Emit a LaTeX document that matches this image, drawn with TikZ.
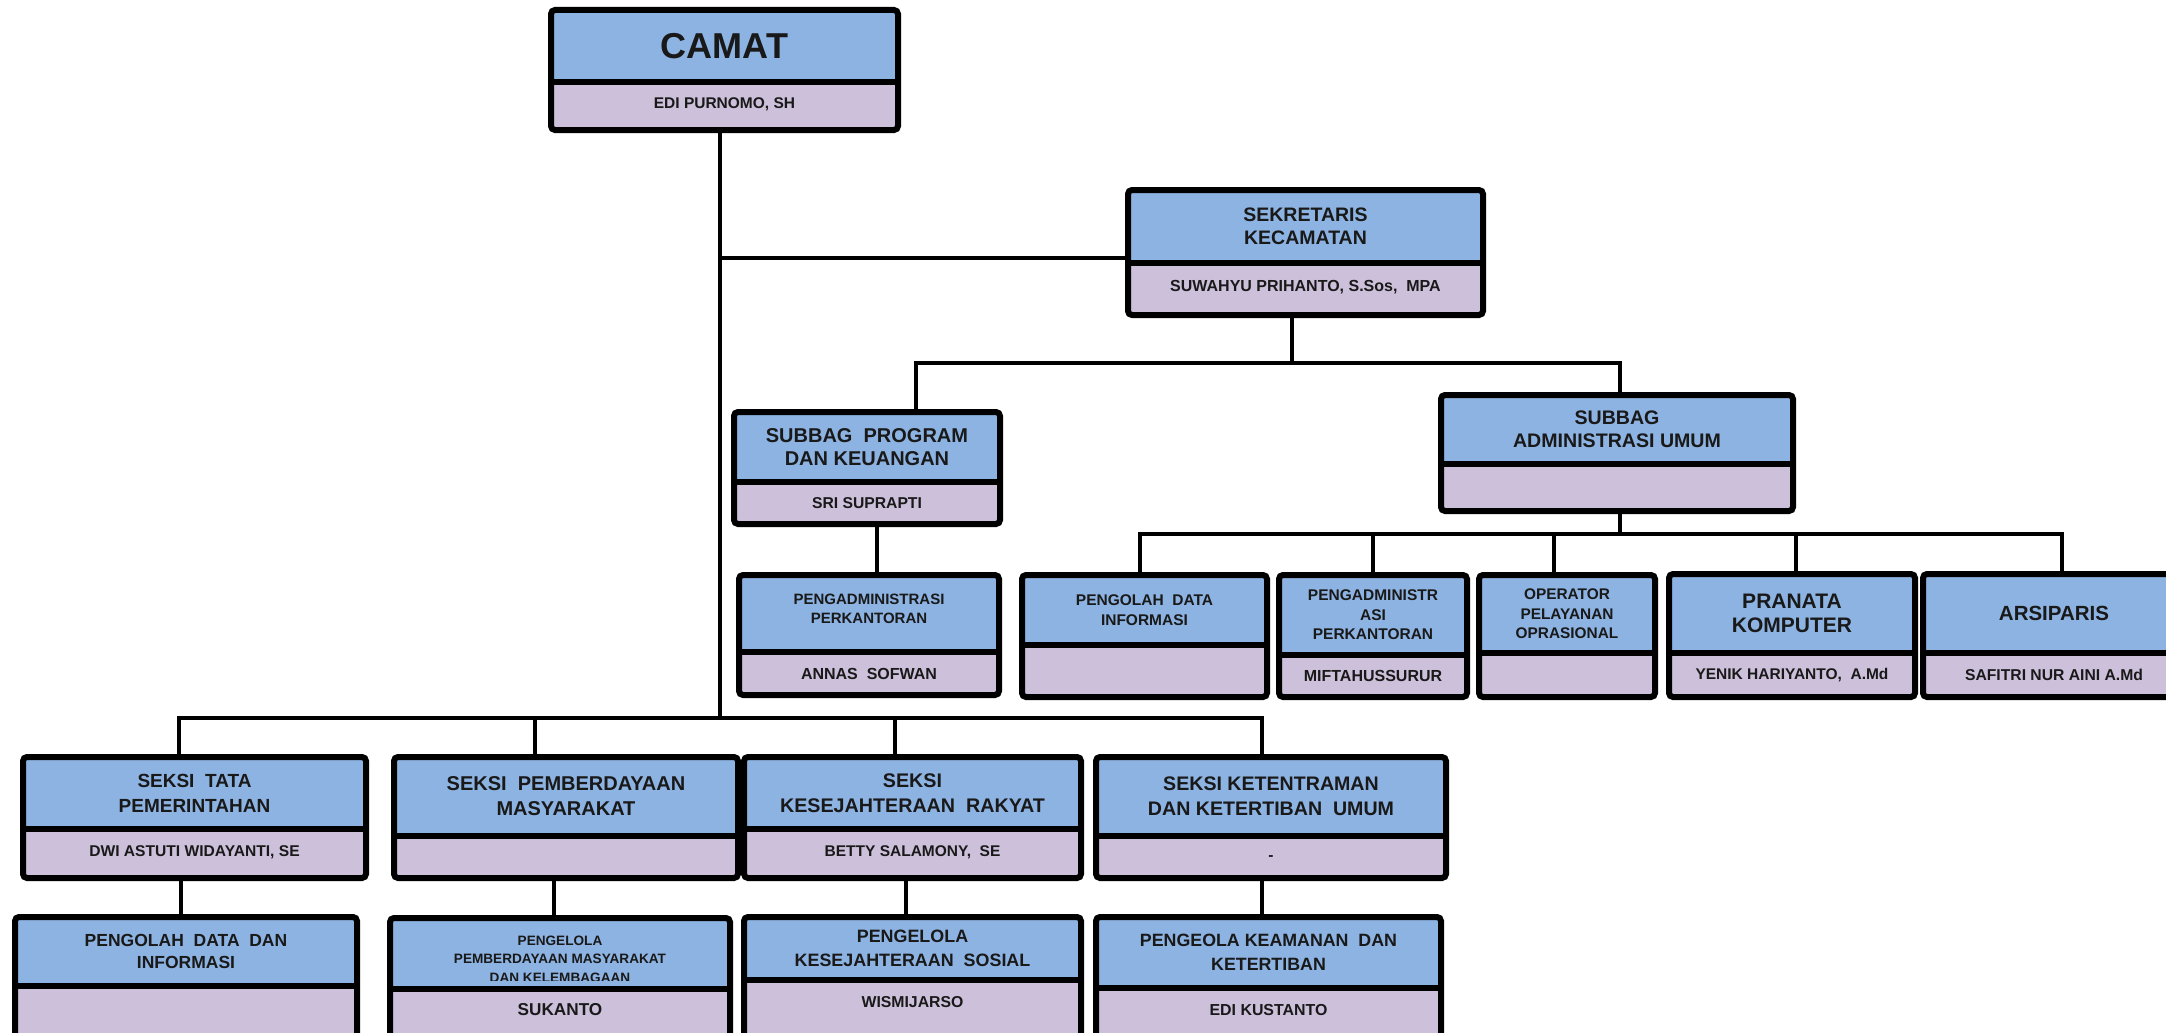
\documentclass[tikz,border=0pt]{standalone}
\usepackage{fontspec}
\setmainfont{Liberation Sans}
\usetikzlibrary{fit}
\definecolor{tblue}{HTML}{8DB3E2}
\definecolor{tpurple}{HTML}{CCC0DA}
\newcommand\fs[2]{\fontsize{#1}{#2}\selectfont\bfseries}
\newcommand\orgbox[6]{%
  \fill[tblue] (#2,#3) rectangle (#4,#5);
  \fill[tpurple] (#2,#5) rectangle (#4,#6);
  \draw[line width=6] (#2,#5) -- (#4,#5);
  \node[boxframe, fit={(#2,#3) (#4,#6)}] (#1) {};
  \coordinate (#1-tc) at ({(#2+#4)/2},{(#3+#5)/2});
}
\begin{document}
\begin{tikzpicture}[x=1pt,y=-1pt,
  boxframe/.style={draw, line width=6, rounded corners=4, inner sep=0, outer sep=0},
  txt/.style={align=center, inner sep=0, text=black!90},
  conn/.style={line width=3.2, line cap=rect}]
\useasboundingbox (0,0) rectangle (2166,1033);
\clip (0,0) rectangle (2166,1033);

% ---------- boxes ----------
\orgbox{camat}{551}{10}{898}{82}{130}
\orgbox{sekr}{1128}{190}{1483}{263}{315}
\orgbox{subprog}{734}{412}{1000}{482}{524}
\orgbox{subadm}{1441}{395}{1793}{464}{511}
\orgbox{pperk}{739}{575}{999}{652}{695}
\orgbox{pdi}{1022}{575}{1267}{645}{697}
\orgbox{padm}{1279}{575}{1467}{655}{697}
\orgbox{oper}{1479}{575}{1655}{653}{697}
\orgbox{pran}{1669}{574}{1915}{653}{697}
\orgbox{arsip}{1923}{574}{2185}{653}{697}
\orgbox{stata}{23}{757}{366}{829}{878}
\orgbox{spemb}{394}{757}{738}{836}{878}
\orgbox{skesra}{744}{757}{1081}{829}{878}
\orgbox{sktr}{1096}{757}{1446}{836}{878}
\orgbox{bpdi}{15}{917}{357}{986}{1050}
\orgbox{bpemb}{390}{918}{730}{989}{1050}
\orgbox{bkes}{744}{917}{1081}{980}{1050}
\orgbox{bkam}{1096}{917}{1441}{988}{1050}

% ---------- texts ----------
\node[txt, font=\fs{36}{40}] (camat-t) at (camat-tc) {CAMAT};
\node[txt, font=\fs{15.5}{18}] (camat-s) at (724.5,104) {EDI PURNOMO, SH};

\node[txt, font=\fs{19.5}{23}] (sekr-t) at (sekr-tc) {SEKRETARIS\\KECAMATAN};
\node[txt, font=\fs{16}{19}] (sekr-s) at (1305.5,287) {SUWAHYU PRIHANTO, S.Sos,\ \ MPA};

\node[txt, font=\fs{20}{23}] (subprog-t) at (subprog-tc) {SUBBAG\ \ PROGRAM\\DAN KEUANGAN};
\node[txt, font=\fs{15.7}{19}] (subprog-s) at (867,503) {SRI SUPRAPTI};

\node[txt, font=\fs{19.6}{23}] (subadm-t) at (subadm-tc) {SUBBAG\\ADMINISTRASI UMUM};

\node[txt, font=\fs{15}{19}] (pperk-t) at (869,609) {PENGADMINISTRASI\\PERKANTORAN};
\node[txt, font=\fs{16}{19}] (pperk-s) at (869,674) {ANNAS\ \ SOFWAN};

\node[txt, font=\fs{15.5}{20}] (pdi-t) at (pdi-tc) {PENGOLAH\ \ DATA\\INFORMASI};

\node[txt, font=\fs{15.5}{19.5}] (padm-t) at (padm-tc) {PENGADMINISTR\\ASI\\PERKANTORAN};
\node[txt, font=\fs{16}{19}] (padm-s) at (1373,676) {MIFTAHUSSURUR};

\node[txt, font=\fs{15.4}{19.5}] (oper-t) at (oper-tc) {OPERATOR\\PELAYANAN\\OPRASIONAL};

\node[txt, font=\fs{21}{24}] (pran-t) at (pran-tc) {PRANATA\\KOMPUTER};
\node[txt, font=\fs{15.5}{19}] (pran-s) at (1792,675) {YENIK HARIYANTO,\ \ A.Md};

\node[txt, font=\fs{20.5}{24}] (arsip-t) at (arsip-tc) {ARSIPARIS};
\node[txt, font=\fs{15.7}{19}] (arsip-s) at (2054,675) {SAFITRI NUR AINI A.Md};

\node[txt, font=\fs{19}{25}] (stata-t) at (stata-tc) {SEKSI\ \ TATA\\PEMERINTAHAN};
\node[txt, font=\fs{15.6}{19}] (stata-s) at (194.5,852) {DWI ASTUTI WIDAYANTI, SE};

\node[txt, font=\fs{20}{25}] (spemb-t) at (spemb-tc) {SEKSI\ \ PEMBERDAYAAN\\MASYARAKAT};

\node[txt, font=\fs{19.7}{25}] (skesra-t) at (skesra-tc) {SEKSI\\KESEJAHTERAAN\ \ RAKYAT};
\node[txt, font=\fs{15.5}{19}] (skesra-s) at (912.5,852) {BETTY SALAMONY,\ \ SE};

\node[txt, font=\fs{19.6}{25}] (sktr-t) at (sktr-tc) {SEKSI KETENTRAMAN\\DAN KETERTIBAN\ \ UMUM};
\node[txt, font=\fs{15.5}{19}] (sktr-s) at (1271,858) {-};

\node[txt, font=\fs{17.5}{22.5}] (bpdi-t) at (bpdi-tc) {PENGOLAH\ \ DATA\ \ DAN\\INFORMASI};

\begin{scope}
\clip (390,918) rectangle (730,980);
\node[txt, font=\fs{13.6}{18.5}] (bpemb-t) at (560,959) {PENGELOLA\\PEMBERDAYAAN MASYARAKAT\\DAN KELEMBAGAAN};
\end{scope}
\node[txt, font=\fs{17.2}{20}] (bpemb-s) at (560,1010) {SUKANTO};

\node[txt, font=\fs{17.9}{24}] (bkes-t) at (bkes-tc) {PENGELOLA\\KESEJAHTERAAN\ \ SOSIAL};
\node[txt, font=\fs{15.8}{19}] (bkes-s) at (912.5,1002) {WISMIJARSO};

\node[txt, font=\fs{17.8}{24}] (bkam-t) at (bkam-tc) {PENGEOLA KEAMANAN\ \ DAN\\KETERTIBAN};
\node[txt, font=\fs{15.9}{19}] (bkam-s) at (1268.5,1010) {EDI KUSTANTO};

% ---------- connectors ----------
\coordinate (jc) at (720,258);
\coordinate (jb) at (720,718);
\draw[conn] (camat.south -| jb) -- (jb);
\draw[conn] (jc) -- (jc -| sekr.west);

\coordinate (js) at (1292,363);
\coordinate (jsl) at (916,363);
\coordinate (jsr) at (1620,363);
\draw[conn] (sekr.south -| js) -- (js);
\draw[conn] (subprog.north -| jsl) -- (jsl) -- (jsr) -- (subadm.north -| jsr);

\coordinate (xprog) at (877,550);
\draw[conn] (subprog.south -| xprog) -- (pperk.north -| xprog);

\coordinate (ja) at (1620,534);
\coordinate (ja1) at (1140,534);
\coordinate (ja2) at (1373,534);
\coordinate (ja3) at (1554,534);
\coordinate (ja4) at (1796,534);
\coordinate (ja5) at (2062,534);
\draw[conn] (subadm.south -| ja) -- (ja);
\draw[conn] (ja1) -- (ja5);
\draw[conn] (ja1) -- (pdi.north -| ja1);
\draw[conn] (ja2) -- (padm.north -| ja2);
\draw[conn] (ja3) -- (oper.north -| ja3);
\draw[conn] (ja4) -- (pran.north -| ja4);
\draw[conn] (ja5) -- (arsip.north -| ja5);

\coordinate (jb1) at (179,718);
\coordinate (jb2) at (535,718);
\coordinate (jb3) at (895,718);
\coordinate (jb4) at (1262,718);
\draw[conn] (jb1) -- (jb4);
\draw[conn] (jb1) -- (stata.north -| jb1);
\draw[conn] (jb2) -- (spemb.north -| jb2);
\draw[conn] (jb3) -- (skesra.north -| jb3);
\draw[conn] (jb4) -- (sktr.north -| jb4);

\coordinate (k1) at (181,898);
\coordinate (k2) at (554,898);
\coordinate (k3) at (906,898);
\coordinate (k4) at (1262,898);
\draw[conn] (stata.south -| k1) -- (bpdi.north -| k1);
\draw[conn] (spemb.south -| k2) -- (bpemb.north -| k2);
\draw[conn] (skesra.south -| k3) -- (bkes.north -| k3);
\draw[conn] (sktr.south -| k4) -- (bkam.north -| k4);
\end{tikzpicture}
\end{document}
